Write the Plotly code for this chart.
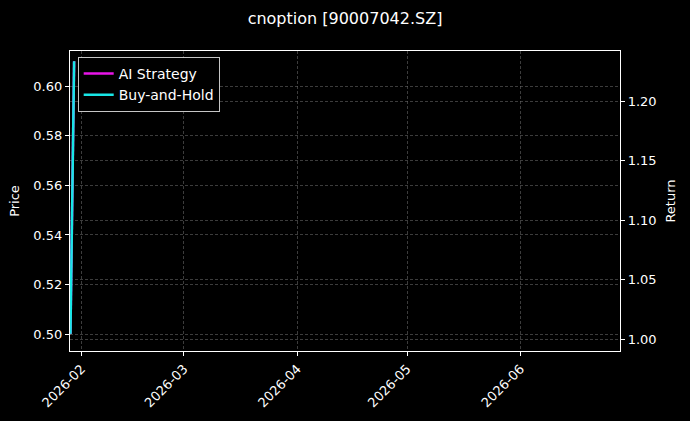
import plotly.graph_objects as go

# dados
datas = ["2026-01-29", "2026-01-30"]
preco = [0.500, 0.609]
ai_strategy = [1.0045, 1.2336]
buy_and_hold = [1.0045, 1.2336]

x_range = ["2026-01-28 21:00", "2026-06-28 04:00"]
ticks_x = ["2026-02-01", "2026-03-01", "2026-04-01", "2026-05-01", "2026-06-01"]
ticks_x_txt = ["2026-02", "2026-03", "2026-04", "2026-05", "2026-06"]
ticks_preco = [0.50, 0.52, 0.54, 0.56, 0.58, 0.60]
ticks_ret = [1.00, 1.05, 1.10, 1.15, 1.20]

fonte = "DejaVu Sans"
grade = "rgba(110,110,110,0.55)"

fig = go.Figure()
fig.add_trace(go.Scatter(x=datas, y=preco, mode="lines", showlegend=False,
                         line=dict(color="rgba(220,240,255,0.8)", width=1.5)))
fig.add_trace(go.Scatter(x=datas, y=ai_strategy, mode="lines", name="AI Strategy",
                         yaxis="y2", line=dict(color="#e815e8", width=2.5)))
fig.add_trace(go.Scatter(x=datas, y=buy_and_hold, mode="lines", name="Buy-and-Hold",
                         yaxis="y2", line=dict(color="#18e6e6", width=2.5)))

fig.update_layout(
    width=690, height=421,
    paper_bgcolor="black", plot_bgcolor="black",
    font=dict(family=fonte, size=13, color="white"),
    margin=dict(l=70, r=70, t=51, b=70),
    title=dict(text="cnoption [90007042.SZ]", x=0.5, xanchor="center",
               y=0.957, yanchor="middle", font=dict(size=16, color="white")),
    xaxis=dict(type="date", range=x_range, tickvals=ticks_x, ticktext=ticks_x_txt,
               tickangle=-45, showline=True, linecolor="white", linewidth=1.2,
               mirror=True, ticks="outside", tickcolor="white", ticklen=4,
               showgrid=True, gridcolor=grade, griddash="3px,2px", gridwidth=0.6,
               zeroline=False),
    yaxis=dict(title=dict(text="Price", standoff=10, font=dict(size=13)),
               range=[0.4932, 0.6142],
               tickvals=ticks_preco, tickformat=".2f", showline=True,
               linecolor="white", linewidth=1.2, ticks="outside", tickcolor="white",
               ticklen=4, showgrid=True, gridcolor=grade, griddash="3px,2px",
               gridwidth=0.6, zeroline=False),
    yaxis2=dict(title=dict(text="Return", standoff=10, font=dict(size=13)),
                range=[0.9901, 1.2423],
                tickvals=ticks_ret, tickformat=".2f", overlaying="y", side="right",
                showline=True, linecolor="white", linewidth=1.2, ticks="outside",
                tickcolor="white", ticklen=4, showgrid=True, gridcolor=grade,
                griddash="3px,2px", gridwidth=0.6, zeroline=False),
    legend=dict(x=0.014, y=0.98, xanchor="left", yanchor="top",
                bgcolor="black", bordercolor="rgba(220,220,220,0.9)", borderwidth=1,
                font=dict(size=14, color="white")),
)

# tira a margem da página para o gráfico ficar no canto
fig.write_html("out.html", config={"displayModeBar": False},
               post_script="document.body.style.margin='0';document.body.style.background='black';")
